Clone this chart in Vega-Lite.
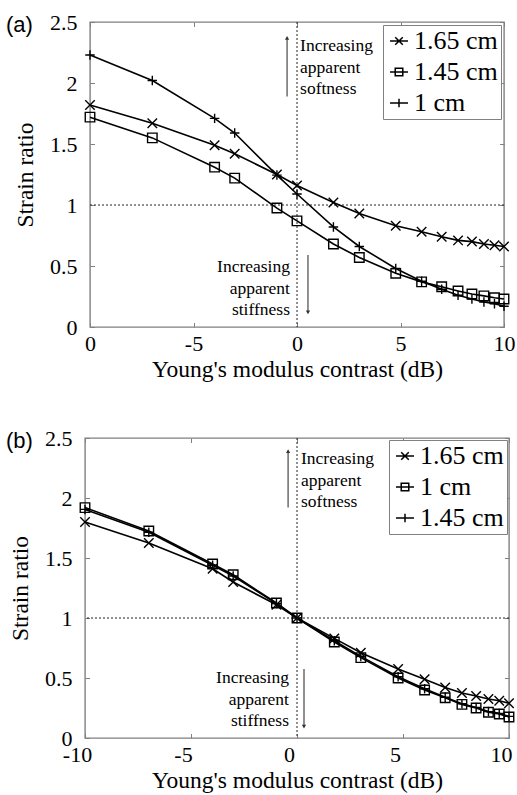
{
  "$schema": "https://vega.github.io/schema/vega-lite/v6.json",
  "background": "white",
  "padding": {"left": 5, "top": 10, "right": 4, "bottom": 0},
  "config": {
    "font": "Liberation Serif, Times New Roman, DejaVu Serif, serif",
    "view": {"stroke": "#808080", "strokeWidth": 1.4},
    "axis": {"domain": false, "grid": false, "ticks": true, "tickSize": -4.5, "tickColor": "#808080", "tickWidth": 1, "labelFont": "Liberation Serif, Times New Roman, DejaVu Serif, serif", "labelFontSize": 22, "labelColor": "#000", "labelFlush": false, "labelOverlap": false, "titleFont": "Liberation Serif, Times New Roman, DejaVu Serif, serif", "titleFontSize": 23.5, "titleFontWeight": "normal", "titleColor": "#000", "labelExpr": "(datum.value < 0 ? '-' : '') + format(abs(datum.value), '~g')"},
    "axisX": {"labelPadding": 11, "titlePadding": 3},
    "axisY": {"labelPadding": 17.5, "titlePadding": 12},
    "legend": {"orient": "top-right", "padding": 3, "strokeColor": "#808080", "fillColor": "white", "labelFont": "Liberation Serif, Times New Roman, DejaVu Serif, serif", "labelFontSize": 26, "labelColor": "#000", "symbolSize": 324, "symbolStrokeWidth": 1.5, "symbolOpacity": 1, "symbolStrokeColor": "#000", "symbolFillColor": "transparent", "labelOffset": 2, "rowPadding": 5, "title": null}
  },
  "datasets": {
    "a": [
      {"series": "1.65 cm", "x": -10, "y": 1.82}, {"series": "1.65 cm", "x": -6.99, "y": 1.67}, {"series": "1.65 cm", "x": -3.98, "y": 1.49}, {"series": "1.65 cm", "x": -3.01, "y": 1.42}, {"series": "1.65 cm", "x": -0.97, "y": 1.25}, {"series": "1.65 cm", "x": 0, "y": 1.16}, {"series": "1.65 cm", "x": 1.76, "y": 1.02}, {"series": "1.65 cm", "x": 3.01, "y": 0.93}, {"series": "1.65 cm", "x": 4.77, "y": 0.83}, {"series": "1.65 cm", "x": 6.02, "y": 0.78}, {"series": "1.65 cm", "x": 6.99, "y": 0.74}, {"series": "1.65 cm", "x": 7.78, "y": 0.71}, {"series": "1.65 cm", "x": 8.45, "y": 0.70}, {"series": "1.65 cm", "x": 9.03, "y": 0.68}, {"series": "1.65 cm", "x": 9.54, "y": 0.67}, {"series": "1.65 cm", "x": 10, "y": 0.66},
      {"series": "1.45 cm", "x": -10, "y": 1.72}, {"series": "1.45 cm", "x": -6.99, "y": 1.55}, {"series": "1.45 cm", "x": -3.98, "y": 1.31}, {"series": "1.45 cm", "x": -3.01, "y": 1.22}, {"series": "1.45 cm", "x": -0.97, "y": 0.975}, {"series": "1.45 cm", "x": 0, "y": 0.87}, {"series": "1.45 cm", "x": 1.76, "y": 0.68}, {"series": "1.45 cm", "x": 3.01, "y": 0.57}, {"series": "1.45 cm", "x": 4.77, "y": 0.44}, {"series": "1.45 cm", "x": 6.02, "y": 0.37}, {"series": "1.45 cm", "x": 6.99, "y": 0.33}, {"series": "1.45 cm", "x": 7.78, "y": 0.295}, {"series": "1.45 cm", "x": 8.45, "y": 0.27}, {"series": "1.45 cm", "x": 9.03, "y": 0.255}, {"series": "1.45 cm", "x": 9.54, "y": 0.24}, {"series": "1.45 cm", "x": 10, "y": 0.23},
      {"series": "1 cm", "x": -10, "y": 2.23}, {"series": "1 cm", "x": -6.99, "y": 2.02}, {"series": "1 cm", "x": -3.98, "y": 1.71}, {"series": "1 cm", "x": -3.01, "y": 1.59}, {"series": "1 cm", "x": -0.97, "y": 1.245}, {"series": "1 cm", "x": 0, "y": 1.09}, {"series": "1 cm", "x": 1.76, "y": 0.82}, {"series": "1 cm", "x": 3.01, "y": 0.66}, {"series": "1 cm", "x": 4.77, "y": 0.48}, {"series": "1 cm", "x": 6.02, "y": 0.375}, {"series": "1 cm", "x": 6.99, "y": 0.31}, {"series": "1 cm", "x": 7.78, "y": 0.26}, {"series": "1 cm", "x": 8.45, "y": 0.23}, {"series": "1 cm", "x": 9.03, "y": 0.205}, {"series": "1 cm", "x": 9.54, "y": 0.19}, {"series": "1 cm", "x": 10, "y": 0.17}
    ],
    "b": [
      {"series": "1.65 cm", "x": -10, "y": 1.80}, {"series": "1.65 cm", "x": -6.99, "y": 1.625}, {"series": "1.65 cm", "x": -3.98, "y": 1.41}, {"series": "1.65 cm", "x": -3.01, "y": 1.30}, {"series": "1.65 cm", "x": -0.97, "y": 1.11}, {"series": "1.65 cm", "x": 0, "y": 1.0}, {"series": "1.65 cm", "x": 1.76, "y": 0.83}, {"series": "1.65 cm", "x": 3.01, "y": 0.71}, {"series": "1.65 cm", "x": 4.77, "y": 0.575}, {"series": "1.65 cm", "x": 6.02, "y": 0.49}, {"series": "1.65 cm", "x": 6.99, "y": 0.42}, {"series": "1.65 cm", "x": 7.78, "y": 0.375}, {"series": "1.65 cm", "x": 8.45, "y": 0.35}, {"series": "1.65 cm", "x": 9.03, "y": 0.325}, {"series": "1.65 cm", "x": 9.54, "y": 0.31}, {"series": "1.65 cm", "x": 10, "y": 0.29},
      {"series": "1 cm", "x": -10, "y": 1.92}, {"series": "1 cm", "x": -6.99, "y": 1.725}, {"series": "1 cm", "x": -3.98, "y": 1.45}, {"series": "1 cm", "x": -3.01, "y": 1.36}, {"series": "1 cm", "x": -0.97, "y": 1.125}, {"series": "1 cm", "x": 0, "y": 1.0}, {"series": "1 cm", "x": 1.76, "y": 0.80}, {"series": "1 cm", "x": 3.01, "y": 0.67}, {"series": "1 cm", "x": 4.77, "y": 0.50}, {"series": "1 cm", "x": 6.02, "y": 0.40}, {"series": "1 cm", "x": 6.99, "y": 0.335}, {"series": "1 cm", "x": 7.78, "y": 0.28}, {"series": "1 cm", "x": 8.45, "y": 0.25}, {"series": "1 cm", "x": 9.03, "y": 0.215}, {"series": "1 cm", "x": 9.54, "y": 0.20}, {"series": "1 cm", "x": 10, "y": 0.175},
      {"series": "1.45 cm", "x": -10, "y": 1.905}, {"series": "1.45 cm", "x": -6.99, "y": 1.715}, {"series": "1.45 cm", "x": -3.98, "y": 1.44}, {"series": "1.45 cm", "x": -3.01, "y": 1.35}, {"series": "1.45 cm", "x": -0.97, "y": 1.12}, {"series": "1.45 cm", "x": 0, "y": 1.0}, {"series": "1.45 cm", "x": 1.76, "y": 0.81}, {"series": "1.45 cm", "x": 3.01, "y": 0.68}, {"series": "1.45 cm", "x": 4.77, "y": 0.51}, {"series": "1.45 cm", "x": 6.02, "y": 0.41}, {"series": "1.45 cm", "x": 6.99, "y": 0.34}, {"series": "1.45 cm", "x": 7.78, "y": 0.285}, {"series": "1.45 cm", "x": 8.45, "y": 0.255}, {"series": "1.45 cm", "x": 9.03, "y": 0.22}, {"series": "1.45 cm", "x": 9.54, "y": 0.205}, {"series": "1.45 cm", "x": 10, "y": 0.18}
    ]
  },
  "center": true,
  "bounds": "flush",
  "spacing": 111,
  "vconcat": [
    {
      "width": 414,
      "height": 305,
      "title": {"text": "(a)", "font": "Liberation Sans, Arial, DejaVu Sans, sans-serif", "fontSize": 22, "fontWeight": "normal", "color": "#000", "anchor": "start", "frame": "group", "dx": -84, "baseline": "middle", "offset": -36},
      "data": {"name": "a"},
      "resolve": {"scale": {"shape": "independent"}, "axis": {"x": "independent", "y": "independent"}},
      "layer": [
        {"data": {"values": [{}]}, "mark": {"type": "rule", "color": "#222", "strokeWidth": 1, "strokeDash": [2, 2]},
         "encoding": {"y": {"datum": 1, "type": "quantitative", "scale": {"domain": [0, 2.5], "nice": false, "zero": false}, "axis": {"orient": "right", "labels": false, "title": null, "values": [0, 0.5, 1, 1.5, 2, 2.5]}}}},
        {"data": {"values": [{}]}, "mark": {"type": "rule", "color": "#222", "strokeWidth": 1, "strokeDash": [2, 2]},
         "encoding": {"x": {"datum": 0, "type": "quantitative", "scale": {"domain": [-10, 10], "nice": false, "zero": false}, "axis": {"orient": "top", "labels": false, "title": null, "values": [-10, -5, 0, 5, 10]}}}},
        {"mark": {"type": "line", "color": "#000", "strokeWidth": 1.6},
         "encoding": {
           "x": {"field": "x", "type": "quantitative", "scale": {"domain": [-10, 10], "nice": false, "zero": false}, "axis": {"orient": "bottom", "values": [-10, -5, 0, 5, 10], "labelExpr": "datum.value == -10 ? '0' : (datum.value < 0 ? '-' : '') + format(abs(datum.value), '~g')", "title": "Young's modulus contrast (dB)"}},
           "y": {"field": "y", "type": "quantitative", "scale": {"domain": [0, 2.5], "nice": false, "zero": false}, "axis": {"orient": "left", "values": [0, 0.5, 1, 1.5, 2, 2.5], "title": "Strain ratio"}},
           "detail": {"field": "series"}}},
        {"mark": {"type": "point", "filled": false, "color": "#000", "strokeWidth": 1.4, "size": 90, "opacity": 1},
         "encoding": {
           "x": {"field": "x", "type": "quantitative", "axis": null},
           "y": {"field": "y", "type": "quantitative", "axis": null},
           "shape": {"field": "series", "type": "nominal", "scale": {"domain": ["1.65 cm", "1.45 cm", "1 cm"], "range": ["M-1,-1L1,1M-1,1L1,-1", "square", "M-1,0L1,0M0,-1L0,1"]}, "legend": null}}},
        {"mark": {"type": "point", "filled": false, "color": "#000", "opacity": 0},
         "encoding": {
           "x": {"field": "x", "type": "quantitative", "axis": null},
           "y": {"field": "y", "type": "quantitative", "axis": null},
           "shape": {"field": "series", "type": "nominal", "scale": {"domain": ["1.65 cm", "1.45 cm", "1 cm"], "range": ["M-1,0L1,0M-0.42,-0.42L0.42,0.42M-0.42,0.42L0.42,-0.42", "M-1,0L1,0M-0.42,-0.42L0.42,-0.42L0.42,0.42L-0.42,0.42Z", "M-1,0L1,0M0,-0.48L0,0.48"]}, "legend": {"orient": "top-right", "offset": 3, "symbolOpacity": 1, "symbolSize": 324}}}},
        {"data": {"values": [{}]}, "mark": {"type": "text", "text": ["Increasing", "apparent", "softness"], "align": "left", "baseline": "middle", "font": "Liberation Serif, Times New Roman, DejaVu Serif, serif", "fontSize": 17.5, "lineHeight": 21.5, "color": "#000"},
         "encoding": {"x": {"datum": 0.15, "type": "quantitative", "axis": null}, "y": {"datum": 2.303, "type": "quantitative", "axis": null}}},
        {"data": {"values": [{}]}, "mark": {"type": "text", "text": ["Increasing", "apparent", "stiffness"], "align": "right", "baseline": "middle", "font": "Liberation Serif, Times New Roman, DejaVu Serif, serif", "fontSize": 17.5, "lineHeight": 21.5, "color": "#000"},
         "encoding": {"x": {"datum": -0.34, "type": "quantitative", "axis": null}, "y": {"datum": 0.49, "type": "quantitative", "axis": null}}},
        {"data": {"values": [{}]}, "mark": {"type": "rule", "color": "#555", "strokeWidth": 1.3},
         "encoding": {"x": {"datum": -0.48, "type": "quantitative", "axis": null}, "y": {"datum": 2.37, "type": "quantitative", "axis": null}, "y2": {"datum": 1.89}}},
        {"data": {"values": [{}]}, "mark": {"type": "point", "shape": "triangle-up", "filled": true, "size": 18, "color": "#333", "opacity": 1},
         "encoding": {"x": {"datum": -0.48, "type": "quantitative", "axis": null}, "y": {"datum": 2.37, "type": "quantitative", "axis": null}}},
        {"data": {"values": [{}]}, "mark": {"type": "rule", "color": "#555", "strokeWidth": 1.3},
         "encoding": {"x": {"datum": 0.53, "type": "quantitative", "axis": null}, "y": {"datum": 0.59, "type": "quantitative", "axis": null}, "y2": {"datum": 0.12}}},
        {"data": {"values": [{}]}, "mark": {"type": "point", "shape": "triangle-down", "filled": true, "size": 18, "color": "#333", "opacity": 1},
         "encoding": {"x": {"datum": 0.53, "type": "quantitative", "axis": null}, "y": {"datum": 0.12, "type": "quantitative", "axis": null}}}
      ]
    },
    {
      "width": 424,
      "height": 300,
      "title": {"text": "(b)", "font": "Liberation Sans, Arial, DejaVu Sans, sans-serif", "fontSize": 22, "fontWeight": "normal", "color": "#000", "anchor": "start", "frame": "group", "dx": -79, "baseline": "middle", "offset": -36},
      "data": {"name": "b"},
      "resolve": {"scale": {"shape": "independent"}, "axis": {"x": "independent", "y": "independent"}},
      "layer": [
        {"data": {"values": [{}]}, "mark": {"type": "rule", "color": "#222", "strokeWidth": 1, "strokeDash": [2, 2]},
         "encoding": {"y": {"datum": 1, "type": "quantitative", "scale": {"domain": [0, 2.5], "nice": false, "zero": false}, "axis": {"orient": "right", "labels": false, "title": null, "values": [0, 0.5, 1, 1.5, 2, 2.5]}}}},
        {"data": {"values": [{}]}, "mark": {"type": "rule", "color": "#222", "strokeWidth": 1, "strokeDash": [2, 2]},
         "encoding": {"x": {"datum": 0, "type": "quantitative", "scale": {"domain": [-10, 10], "nice": false, "zero": false}, "axis": {"orient": "top", "labels": false, "title": null, "values": [-10, -5, 0, 5, 10]}}}},
        {"mark": {"type": "line", "color": "#000", "strokeWidth": 1.6},
         "encoding": {
           "x": {"field": "x", "type": "quantitative", "scale": {"domain": [-10, 10], "nice": false, "zero": false}, "axis": {"orient": "bottom", "values": [-10, -5, 0, 5, 10], "labelOffset": -8, "title": "Young's modulus contrast (dB)"}},
           "y": {"field": "y", "type": "quantitative", "scale": {"domain": [0, 2.5], "nice": false, "zero": false}, "axis": {"orient": "left", "values": [0, 0.5, 1, 1.5, 2, 2.5], "title": "Strain ratio"}},
           "detail": {"field": "series"}}},
        {"mark": {"type": "point", "filled": false, "color": "#000", "strokeWidth": 1.4, "size": 90, "opacity": 1},
         "encoding": {
           "x": {"field": "x", "type": "quantitative", "axis": null},
           "y": {"field": "y", "type": "quantitative", "axis": null},
           "shape": {"field": "series", "type": "nominal", "scale": {"domain": ["1.65 cm", "1 cm", "1.45 cm"], "range": ["M-1,-1L1,1M-1,1L1,-1", "square", "M-1,0L1,0M0,-1L0,1"]}, "legend": null}}},
        {"mark": {"type": "point", "filled": false, "color": "#000", "opacity": 0},
         "encoding": {
           "x": {"field": "x", "type": "quantitative", "axis": null},
           "y": {"field": "y", "type": "quantitative", "axis": null},
           "shape": {"field": "series", "type": "nominal", "scale": {"domain": ["1.65 cm", "1 cm", "1.45 cm"], "range": ["M-1,0L1,0M-0.42,-0.42L0.42,0.42M-0.42,0.42L0.42,-0.42", "M-1,0L1,0M-0.42,-0.42L0.42,-0.42L0.42,0.42L-0.42,0.42Z", "M-1,0L1,0M0,-0.48L0,0.48"]}, "legend": {"orient": "top-right", "offset": 2, "symbolOpacity": 1, "symbolSize": 324}}}},
        {"data": {"values": [{}]}, "mark": {"type": "text", "text": ["Increasing", "apparent", "softness"], "align": "left", "baseline": "middle", "font": "Liberation Serif, Times New Roman, DejaVu Serif, serif", "fontSize": 17.5, "lineHeight": 21.5, "color": "#000"},
         "encoding": {"x": {"datum": 0.19, "type": "quantitative", "axis": null}, "y": {"datum": 2.325, "type": "quantitative", "axis": null}}},
        {"data": {"values": [{}]}, "mark": {"type": "text", "text": ["Increasing", "apparent", "stiffness"], "align": "right", "baseline": "middle", "font": "Liberation Serif, Times New Roman, DejaVu Serif, serif", "fontSize": 17.5, "lineHeight": 21.5, "color": "#000"},
         "encoding": {"x": {"datum": -0.38, "type": "quantitative", "axis": null}, "y": {"datum": 0.5, "type": "quantitative", "axis": null}}},
        {"data": {"values": [{}]}, "mark": {"type": "rule", "color": "#555", "strokeWidth": 1.3},
         "encoding": {"x": {"datum": -0.42, "type": "quantitative", "axis": null}, "y": {"datum": 2.39, "type": "quantitative", "axis": null}, "y2": {"datum": 1.92}}},
        {"data": {"values": [{}]}, "mark": {"type": "point", "shape": "triangle-up", "filled": true, "size": 18, "color": "#333", "opacity": 1},
         "encoding": {"x": {"datum": -0.42, "type": "quantitative", "axis": null}, "y": {"datum": 2.39, "type": "quantitative", "axis": null}}},
        {"data": {"values": [{}]}, "mark": {"type": "rule", "color": "#555", "strokeWidth": 1.3},
         "encoding": {"x": {"datum": 0.33, "type": "quantitative", "axis": null}, "y": {"datum": 0.575, "type": "quantitative", "axis": null}, "y2": {"datum": 0.095}}},
        {"data": {"values": [{}]}, "mark": {"type": "point", "shape": "triangle-down", "filled": true, "size": 18, "color": "#333", "opacity": 1},
         "encoding": {"x": {"datum": 0.33, "type": "quantitative", "axis": null}, "y": {"datum": 0.095, "type": "quantitative", "axis": null}}}
      ]
    }
  ]
}
